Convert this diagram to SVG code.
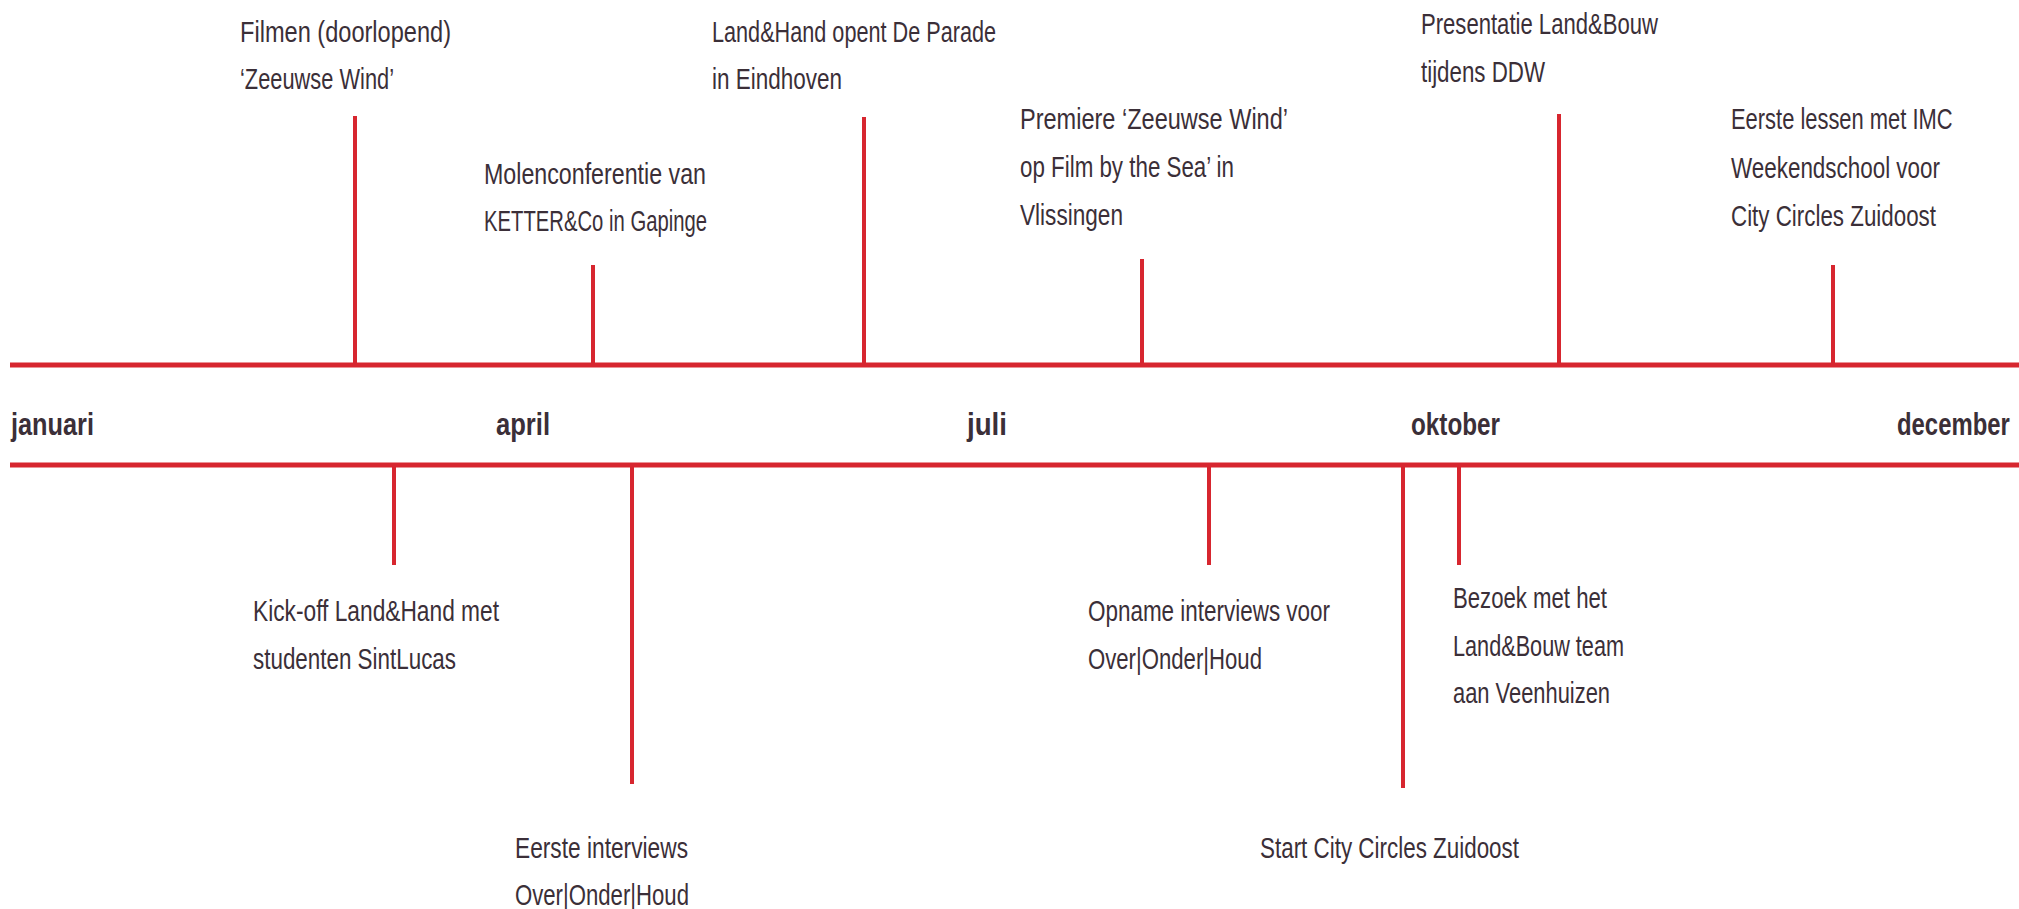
<svg xmlns="http://www.w3.org/2000/svg" width="2019" height="909" viewBox="0 0 2019 909">
<style>
.ax{stroke:#d7262f;stroke-width:5;fill:none}
.tk{stroke:#d7262f;stroke-width:4;fill:none}
.t{font-family:"Liberation Sans",Arial,sans-serif;font-size:29px;fill:#3b2f38}
.m{font-family:"Liberation Sans",Arial,sans-serif;font-size:31px;font-weight:bold;fill:#3b2f38}
</style>
<rect width="2019" height="909" fill="#ffffff"/>
<g id="connectors">
<line class="ax" x1="10" y1="365" x2="2019" y2="365"/>
<line class="ax" x1="10" y1="465" x2="2019" y2="465"/>
<line class="tk" x1="355" y1="116" x2="355" y2="365"/>
<line class="tk" x1="593" y1="265" x2="593" y2="365"/>
<line class="tk" x1="864" y1="117" x2="864" y2="365"/>
<line class="tk" x1="1142" y1="259" x2="1142" y2="365"/>
<line class="tk" x1="1559" y1="114" x2="1559" y2="365"/>
<line class="tk" x1="1833" y1="265" x2="1833" y2="365"/>
<line class="tk" x1="394" y1="465" x2="394" y2="565"/>
<line class="tk" x1="632" y1="465" x2="632" y2="784"/>
<line class="tk" x1="1209" y1="465" x2="1209" y2="565"/>
<line class="tk" x1="1403" y1="465" x2="1403" y2="788"/>
<line class="tk" x1="1459" y1="465" x2="1459" y2="565"/>
</g>
<g id="months">
<text class="m" x="11" y="435" textLength="83" lengthAdjust="spacingAndGlyphs">januari</text>
<text class="m" x="496" y="435" textLength="54" lengthAdjust="spacingAndGlyphs">april</text>
<text class="m" x="967" y="435" textLength="40" lengthAdjust="spacingAndGlyphs">juli</text>
<text class="m" x="1411" y="435" textLength="89" lengthAdjust="spacingAndGlyphs">oktober</text>
<text class="m" transform="translate(1897 435) scale(0.8 1)" x="0" y="0" textLength="141" lengthAdjust="spacingAndGlyphs">december</text>
</g>
<g id="ev-filmen">
<text class="t" x="240" y="42" textLength="211" lengthAdjust="spacingAndGlyphs">Filmen (doorlopend)</text>
<text class="t" x="240" y="89" textLength="154" lengthAdjust="spacingAndGlyphs">‘Zeeuwse Wind’</text>
</g>
<g id="ev-molen">
<text class="t" x="484" y="184" textLength="222" lengthAdjust="spacingAndGlyphs">Molenconferentie van</text>
<text class="t" x="484" y="231" textLength="223" lengthAdjust="spacingAndGlyphs">KETTER&amp;Co in Gapinge</text>
</g>
<g id="ev-parade">
<text class="t" x="712" y="42" textLength="284" lengthAdjust="spacingAndGlyphs">Land&amp;Hand opent De Parade</text>
<text class="t" x="712" y="89" textLength="130" lengthAdjust="spacingAndGlyphs">in Eindhoven</text>
</g>
<g id="ev-premiere">
<text class="t" x="1020" y="129" textLength="268" lengthAdjust="spacingAndGlyphs">Premiere ‘Zeeuwse Wind’</text>
<text class="t" x="1020" y="177" textLength="214" lengthAdjust="spacingAndGlyphs">op Film by the Sea’ in</text>
<text class="t" x="1020" y="225" textLength="103" lengthAdjust="spacingAndGlyphs">Vlissingen</text>
</g>
<g id="ev-ddw">
<text class="t" x="1421" y="34" textLength="237" lengthAdjust="spacingAndGlyphs">Presentatie Land&amp;Bouw</text>
<text class="t" x="1421" y="82" textLength="124" lengthAdjust="spacingAndGlyphs">tijdens DDW</text>
</g>
<g id="ev-imc">
<text class="t" transform="translate(1731 129) scale(0.8 1)" x="0" y="0" textLength="277" lengthAdjust="spacingAndGlyphs">Eerste lessen met IMC</text>
<text class="t" x="1731" y="178" textLength="209" lengthAdjust="spacingAndGlyphs">Weekendschool voor</text>
<text class="t" x="1731" y="226" textLength="205" lengthAdjust="spacingAndGlyphs">City Circles Zuidoost</text>
</g>
<g id="ev-kickoff">
<text class="t" x="253" y="621" textLength="246" lengthAdjust="spacingAndGlyphs">Kick-off Land&amp;Hand met</text>
<text class="t" x="253" y="669" textLength="203" lengthAdjust="spacingAndGlyphs">studenten SintLucas</text>
</g>
<g id="ev-interviews">
<text class="t" x="515" y="858" textLength="173" lengthAdjust="spacingAndGlyphs">Eerste interviews</text>
<text class="t" x="515" y="905" textLength="174" lengthAdjust="spacingAndGlyphs">Over|Onder|Houd</text>
</g>
<g id="ev-opname">
<text class="t" x="1088" y="621" textLength="242" lengthAdjust="spacingAndGlyphs">Opname interviews voor</text>
<text class="t" x="1088" y="669" textLength="174" lengthAdjust="spacingAndGlyphs">Over|Onder|Houd</text>
</g>
<g id="ev-start">
<text class="t" x="1260" y="858" textLength="259" lengthAdjust="spacingAndGlyphs">Start City Circles Zuidoost</text>
</g>
<g id="ev-bezoek">
<text class="t" x="1453" y="608" textLength="154" lengthAdjust="spacingAndGlyphs">Bezoek met het</text>
<text class="t" x="1453" y="656" textLength="171" lengthAdjust="spacingAndGlyphs">Land&amp;Bouw team</text>
<text class="t" x="1453" y="703" textLength="157" lengthAdjust="spacingAndGlyphs">aan Veenhuizen</text>
</g>
</svg>
